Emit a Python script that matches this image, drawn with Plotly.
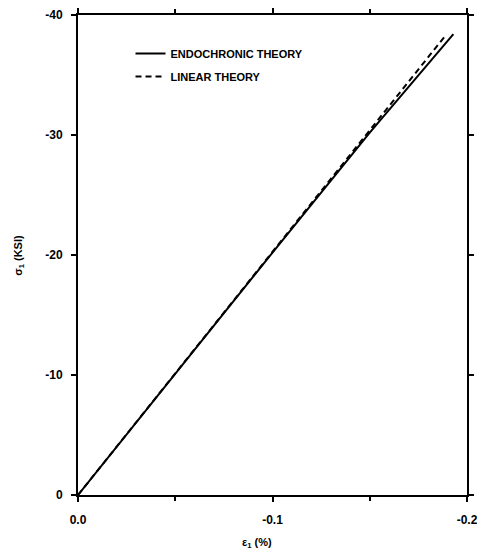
import plotly.graph_objects as go

# strain (%) and stress (ksi)
strain_endo = [0.0, -0.05, -0.10, -0.15, -0.193]
stress_endo = [0.0, -10.1, -20.2, -30.2, -38.4]

strain_lin = [0.0, -0.189]
stress_lin = [0.0, -38.3]

x_ticks = [0.0, -0.1, -0.2]
x_labels = ["0.0", "-0.1", "-0.2"]
y_ticks = [0, -10, -20, -30, -40]
y_labels = ["0", "-10", "-20", "-30", "-40"]

FONT = "Liberation Sans"

fig = go.Figure()
fig.add_trace(go.Scatter(
    x=strain_endo, y=stress_endo, mode="lines", name="ENDOCHRONIC THEORY",
    legendgroup="a", line=dict(color="black", width=2),
))
fig.add_trace(go.Scatter(
    x=strain_lin, y=stress_lin, mode="lines", name="LINEAR THEORY",
    legendgroup="b", line=dict(color="black", width=2, dash="6px,4px"),
))

axis_common = dict(
    showline=True, linecolor="black", linewidth=2, mirror="allticks",
    ticks="outside", ticklen=5, tickwidth=1.5, tickcolor="black",
    showgrid=False, zeroline=False, automargin=False,
    ticklabeloverflow="allow",
    tickfont=dict(family=FONT, size=12, color="black", weight="bold"),
)

fig.update_xaxes(range=[0, -0.2], tickvals=x_ticks, ticktext=x_labels,
                 minor=dict(ticks="outside", dtick=0.05, ticklen=4, tickcolor="black"),
                 ticklabelstandoff=8, **axis_common)
fig.update_yaxes(range=[0, -40], tickvals=y_ticks, ticktext=y_labels,
                 ticklabelstandoff=6, **axis_common)

# the page body adds an 8px margin all round, so the figure is 16px smaller
fig.update_layout(
    width=469, height=541,
    margin=dict(l=70, r=10, t=7, b=54),
    plot_bgcolor="white", paper_bgcolor="white",
    font=dict(family=FONT, color="black"),
    showlegend=True,
    legend=dict(
        x=0.135, y=0.95, xanchor="left", yanchor="top",
        bgcolor="rgba(0,0,0,0)", tracegroupgap=4,
        font=dict(family=FONT, size=11, color="black", weight="bold"),
    ),
    annotations=[
        dict(text="ε<sub>1</sub> (%)", xref="paper", yref="paper",
             x=0.46, y=-0.1, showarrow=False, xanchor="center", yanchor="middle",
             font=dict(family=FONT, size=11, weight="bold")),
        dict(text="σ<sub>1</sub> (KSI)", xref="paper", yref="paper",
             x=-0.152, y=0.5, showarrow=False, textangle=-90,
             xanchor="center", yanchor="middle",
             font=dict(family=FONT, size=11, weight="bold")),
    ],
)

fig.write_html("out.html")
